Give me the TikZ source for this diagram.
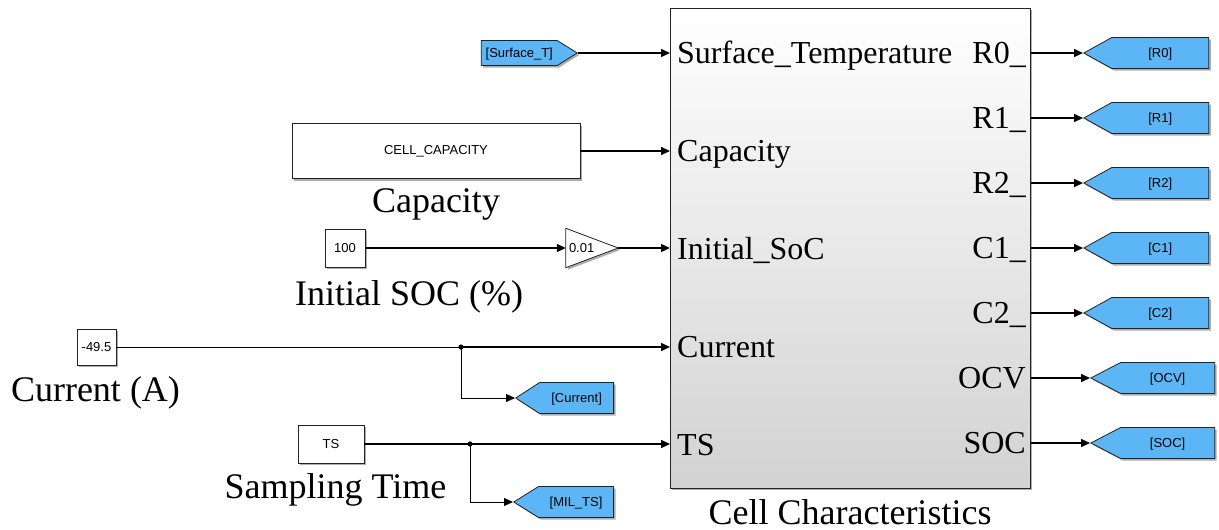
\documentclass[tikz,border=0pt]{standalone}
\usepackage{fontspec}
\setmainfont{Liberation Serif}
\newfontfamily\arialf{Liberation Sans}
\usetikzlibrary{arrows.meta,shapes.symbols,shadows,calc}
\definecolor{gotoblue}{RGB}{92,182,245}
\definecolor{edgegray}{RGB}{35,35,35}
\definecolor{cellbot}{RGB}{210,210,210}
\begin{document}
\begin{tikzpicture}[x=1pt,y=-1pt,
  shad/.style={drop shadow={shadow xshift=2pt,shadow yshift=-2pt,opacity=0.45,fill=black!70}},
  small/.style={font=\arialf\fontsize{13}{15}\selectfont},
  blk/.style={draw=edgegray,line width=0.8pt,fill=white,inner sep=0pt,shad,small},
  lbl/.style={font=\fontsize{36}{40}\selectfont,anchor=base,inner sep=0pt},
  pin/.style={font=\fontsize{32}{36}\selectfont,anchor=base west,inner sep=0pt},
  pout/.style={font=\fontsize{32}{36}\selectfont,anchor=base east,inner sep=0pt},
  wire/.style={line width=1.5pt,-{Triangle[length=9pt,width=8pt]}},
  thinwire/.style={line width=0.9pt},
  thinarrow/.style={line width=0.9pt,-{Triangle[length=9pt,width=8pt]}},
  sig/.style={signal,draw=edgegray,line width=0.8pt,fill=gotoblue,small,
    inner xsep=0pt,inner ysep=9.75pt,text height=10pt,text depth=1.5pt,align=center,shad},
  goto/.style={sig,signal to=west,anchor=west},
  fromblk/.style={sig,signal to=east,anchor=east,inner ysep=6.75pt}
]
\useasboundingbox (0,0) rectangle (1219,530);

% main subsystem block
\node[draw=edgegray,line width=0.9pt,shad,top color=white,bottom color=cellbot,
  minimum width=360,minimum height=480,inner sep=0pt,anchor=north west] (cell) at (670,8) {};
\node[lbl] (celllbl) at (850,524) {Cell Characteristics};

% input port labels
\node[pin] (pSurf) at (677,63.5) {Surface\_Temperature};
\node[pin] (pCap) at (677,161.5) {Capacity};
\node[pin] (pSoc) at (677,259.5) {Initial\_SoC};
\node[pin] (pCur) at (677,357.5) {Current};
\node[pin] (pTS) at (677,455.5) {TS};

% output port labels
\node[pout] (oR0) at (1026,63.5) {R0\_};
\node[pout] (oR1) at (1026,128.5) {R1\_};
\node[pout] (oR2) at (1026,193.5) {R2\_};
\node[pout] (oC1) at (1026,258.5) {C1\_};
\node[pout] (oC2) at (1026,323.5) {C2\_};
\node[pout] (oOCV) at (1026,388.5) {OCV};
\node[pout] (oSOC) at (1026,453.5) {SOC};

% Surface temperature from-block
\node[fromblk,text width=76pt,signal pointer angle=64] (fromS) at (578,53) {[Surface\_T]};
\draw[wire] (fromS.east) -- (cell.west |- fromS.east);

% capacity
\node[blk,minimum width=288,minimum height=55] (capblk) at (436,151) {CELL\_CAPACITY};
\node[lbl] (caplbl) at (436,212) {Capacity};
\draw[wire] (capblk.east) -- (cell.west |- capblk.east);

% initial SOC
\node[blk,minimum width=40,minimum height=38] (soc0) at (345,248) {100};
\node[lbl] (soclbl) at (409,305) {Initial SOC (\%)};
\node[minimum width=52,minimum height=39,inner sep=0pt] (gain) at (592,248) {};
\path[draw=edgegray,line width=0.8pt,fill=white,shad] (gain.north west) -- (gain.east) -- (gain.south west) -- cycle;
\node[small,anchor=west,inner sep=0pt] (gaintxt) at ([xshift=3pt]gain.west) {0.01};
\draw[wire] (soc0.east) -- (gain.west);
\draw[wire] (gain.east) -- (cell.west |- gain.east);

% current
\node[blk,minimum width=39,minimum height=36] (cur) at (96.5,347) {-49.5};
\node[lbl] (curlbl) at (95.5,401) {Current (A)};
\coordinate (j1) at (461,347);
\node[goto,text width=74pt,signal pointer angle=66] (gCur) at (515,398) {[Current]};
\draw[thinwire] (cur.east) -- (j1);
\draw[wire] (j1) -- (cell.west |- j1);
\draw[thinarrow] (j1) |- (gCur.west);
\fill (j1) circle (2.6);

% sampling time
\node[blk,minimum width=66,minimum height=38] (ts) at (331,444) {TS};
\node[lbl] (tslbl) at (335.5,498) {Sampling Time};
\coordinate (j2) at (470,444);
\node[goto,text width=75pt,signal pointer angle=64] (gTS) at (513,502) {[MIL\_TS]};
\draw[wire] (ts.east) -- (cell.west |- ts.east);
\draw[thinarrow] (j2) |- (gTS.west);
\fill (j2) circle (2.6);

% output gotos
\node[goto,text width=97pt,signal pointer angle=58] (gR0) at (1083,53) {[R0]};
\node[goto,text width=97pt,signal pointer angle=58] (gR1) at (1083,118) {[R1]};
\node[goto,text width=97pt,signal pointer angle=58] (gR2) at (1083,183) {[R2]};
\node[goto,text width=97pt,signal pointer angle=58] (gC1) at (1083,248) {[C1]};
\node[goto,text width=97pt,signal pointer angle=58] (gC2) at (1083,313) {[C2]};
\node[goto,text width=94pt,signal pointer angle=55] (gOCV) at (1090,378) {[OCV]};
\node[goto,text width=94pt,signal pointer angle=55] (gSOC) at (1090,443) {[SOC]};
\foreach \g in {gR0,gR1,gR2,gC1,gC2,gOCV,gSOC}
  \draw[wire] (cell.east |- \g.west) -- (\g.west);
\end{tikzpicture}
\end{document}
